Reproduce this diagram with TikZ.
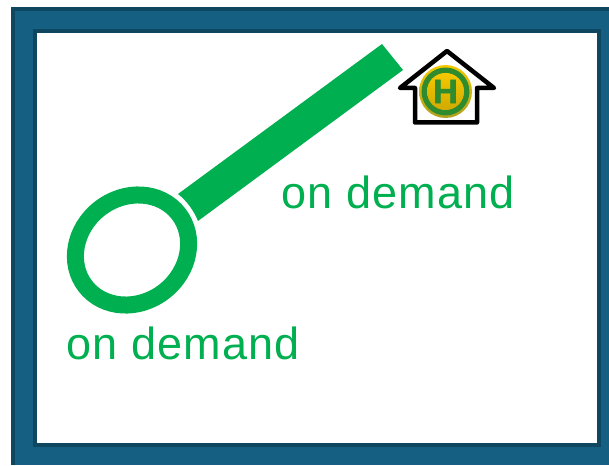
\documentclass[tikz,border=0pt]{standalone}
\usepackage{fontspec}
\setmainfont{Liberation Sans}
\newfontfamily\demandfont[LetterSpace=2.4]{Liberation Sans}
\newfontfamily\stopfont[BoldFeatures={FakeBold=1.6}]{Liberation Sans}
\definecolor{framefill}{HTML}{156082}
\definecolor{framedark}{HTML}{0F4761}
\definecolor{routegreen}{HTML}{00B050}
\definecolor{stopgreen}{HTML}{2E8B2E}
\definecolor{stopgold}{HTML}{F5C800}
\definecolor{stopgolddark}{HTML}{B0A020}
\tikzset{
	demandlabel/.style={anchor=base west,inner sep=0pt,text=routegreen,font=\demandfont\fontsize{45}{45}\selectfont},
	framebar/.style={fill=framefill,draw=framedark,line width=4pt}
}
\begin{document}
\begin{tikzpicture}[x=1pt,y=-1pt]
	  \useasboundingbox (0,0) rectangle (609,465);
	  \fill[white] (0,0) rectangle (609,465);
	  \fill[framefill] (11,7) rectangle (609,465);
	  \fill[framedark] (11,7) rectangle (609,11);
	  \fill[framedark] (11,7) rectangle (15,465);
	  \draw[framebar,fill=white] (35,31) rectangle (599,444.5);
	  \fill[routegreen] (382,44) -- (403,70) -- (198,221) .. controls (194,211) and (187,201) .. (178,194) -- cycle;
	  \draw[routegreen,line width=17pt] (132,250) ellipse [x radius=59,y radius=52.5,rotate=38];
	  \draw[black,line width=4.5pt,line join=round] (447,51) -- (494,88) -- (477,88) -- (477,122.5) -- (415,122.5) -- (415,88) -- (400,88) -- cycle;
	  \shade[top color=stopgold,bottom color=stopgolddark] (445.5,91.5) circle [radius=26.5];
	  \draw[stopgreen,line width=5.5pt] (445.5,91.5) circle [radius=21.2];
	  \shade[top color=stopgold,bottom color=stopgold!85!black] (445.5,91.5) circle [radius=18.5];
	  \node[inner sep=0pt,text=stopgreen,font=\stopfont\fontsize{34}{34}\selectfont\bfseries] (stoph) at (445.5,91.5) {H};
	  \node[demandlabel] (demandtop) at (281.5,208) {on demand};
	  \node[demandlabel] (demandbottom) at (66.5,359) {on demand};
\end{tikzpicture}
\end{document}
